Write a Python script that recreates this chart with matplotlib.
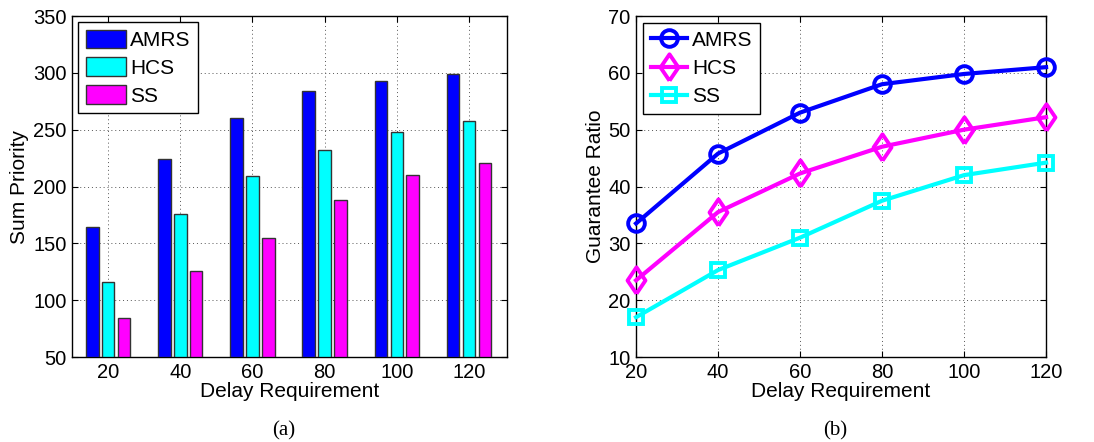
import numpy as np
import matplotlib
matplotlib.use("Agg")
import matplotlib.pyplot as plt

delay = [20, 40, 60, 80, 100, 120]
schemes = ["AMRS", "HCS", "SS"]

# (a) sum priority
sum_amrs = [164, 224, 260, 284, 293, 299]
sum_hcs = [116, 176, 209, 232, 248, 258]
sum_ss = [84, 126, 155, 188, 210, 221]

# (b) guarantee ratio
gr_amrs = [33.5, 45.8, 53.0, 58.0, 59.8, 61.0]
gr_hcs = [23.5, 35.5, 42.3, 47.0, 50.0, 52.2]
gr_ss = [17.0, 25.3, 31.0, 37.5, 42.0, 44.2]

bar_colors = ["#0000ff", "#00ffff", "#ff00ff"]
line_colors = ["#0000ff", "#ff00ff", "#00ffff"]

plt.rcParams["font.family"] = ["Liberation Sans", "DejaVu Sans"]
plt.rcParams["xtick.direction"] = "in"
plt.rcParams["ytick.direction"] = "in"

fig = plt.figure(figsize=(10.94, 4.42), dpi=100)
ax1 = fig.add_axes([0.0658, 0.1923, 0.3976, 0.7715])
ax2 = fig.add_axes([0.5814, 0.1923, 0.3748, 0.7715])

# bar chart
x = np.array(delay, dtype=float)
offsets = [-4.4, 0.0, 4.4]
for vals, off, c, name in zip([sum_amrs, sum_hcs, sum_ss], offsets, bar_colors, schemes):
    ax1.bar(x + off, np.array(vals) - 50, bottom=50, width=3.5, color=c,
            edgecolor="#333333", linewidth=1.0, label=name, zorder=3)
ax1.set_xlim(10, 130.5)
ax1.set_ylim(50, 350)
ax1.set_xticks(delay)
ax1.set_yticks(range(50, 351, 50))
ax1.set_xlabel("Delay Requirement", fontsize=15, labelpad=0)
ax1.set_ylabel("Sum Priority", fontsize=15, labelpad=3)
ax1.grid(True, linestyle=(0, (1, 3)), color="#555555", linewidth=0.7, zorder=0)
ax1.set_axisbelow(True)
leg1 = ax1.legend(loc="upper left", fontsize=15, fancybox=False, edgecolor="black",
                  framealpha=1, handlelength=1.95, handleheight=1.0, handletextpad=0.2,
                  borderaxespad=0.3, labelspacing=0.35, borderpad=0.35)
leg1.get_frame().set_linewidth(1.0)

# line chart (matlab-style diamond: a bit taller than wide)
diamond = [(0, -1), (0.68, 0), (0, 1), (-0.68, 0), (0, -1)]
markers = ["o", diamond, "s"]
msizes = [12, 19, 10]
for vals, c, m, ms, name in zip([gr_amrs, gr_hcs, gr_ss], line_colors, markers, msizes, schemes):
    ax2.plot(delay, vals, color=c, linewidth=3, marker=m, markersize=ms,
             markerfacecolor="none", markeredgewidth=2.8, label=name, clip_on=False, zorder=3)
ax2.set_xlim(20, 120)
ax2.set_ylim(10, 70)
ax2.set_xticks(delay)
ax2.set_yticks(range(10, 71, 10))
ax2.set_xlabel("Delay Requirement", fontsize=15, labelpad=0)
ax2.set_ylabel("Guarantee Ratio", fontsize=15, labelpad=2)
ax2.grid(True, linestyle=(0, (1, 3)), color="#555555", linewidth=0.7, zorder=0)
ax2.set_axisbelow(True)
leg2 = ax2.legend(loc="upper left", fontsize=15, fancybox=False, edgecolor="black",
                  framealpha=1, handlelength=1.75, handletextpad=0.25,
                  borderaxespad=0.35, labelspacing=0.45, borderpad=0.35)
leg2.get_frame().set_linewidth(1.0)

for ax in (ax1, ax2):
    ax.tick_params(labelsize=14.5, length=4, top=True, right=True, pad=4)
    for s in ax.spines.values():
        s.set_linewidth(1.0)

fig.text(0.259, 0.015, "(a)", family=["Liberation Serif", "DejaVu Serif"], fontsize=15, ha="center")
fig.text(0.763, 0.015, "(b)", family=["Liberation Serif", "DejaVu Serif"], fontsize=15, ha="center")

fig.savefig("out.png", dpi=100)
